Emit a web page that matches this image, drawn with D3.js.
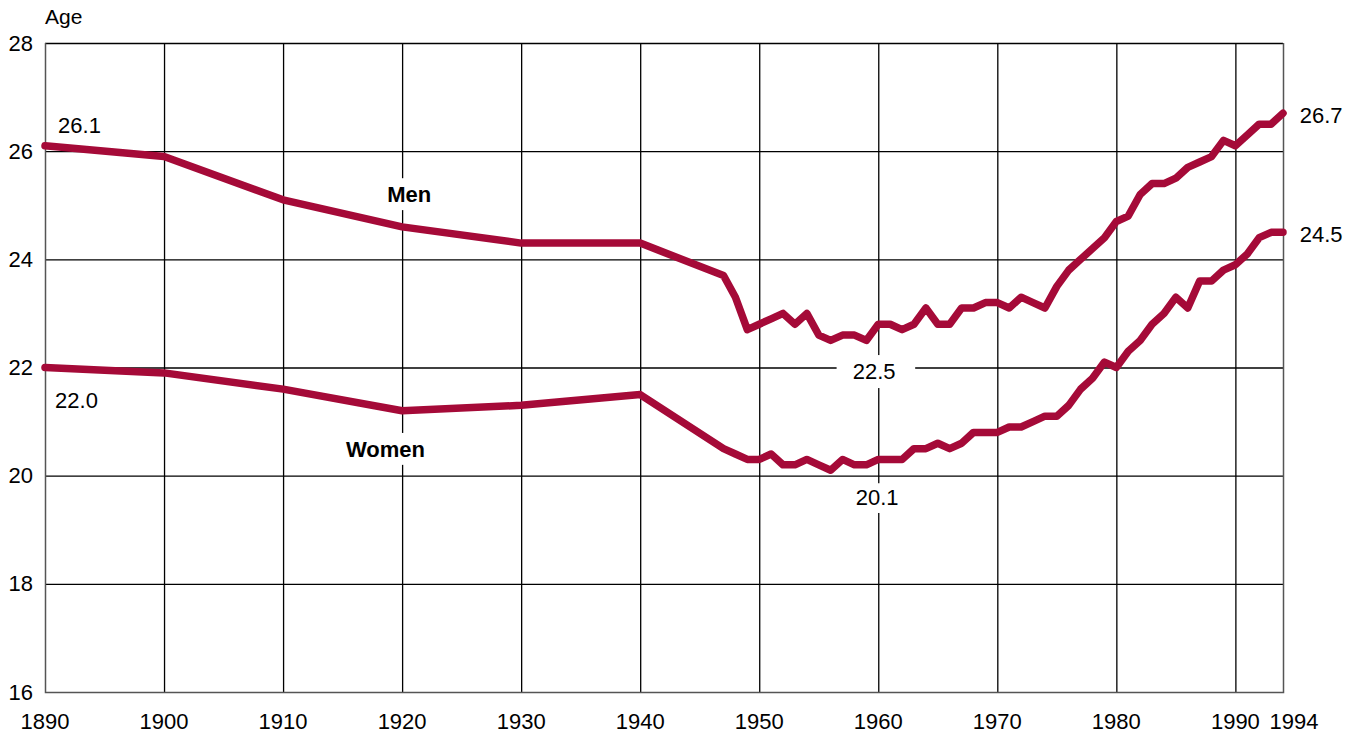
<!DOCTYPE html>
<html>
<head>
<meta charset="utf-8">
<script src="https://cdn.jsdelivr.net/npm/d3@7"></script>
<style>
  body { margin:0; background:#fff; }
  text { font-family: "Liberation Sans", Arial, Helvetica, sans-serif; fill:#000; }
</style>
</head>
<body>
<div id="chart"></div>
<script>
// median age at first marriage, by year
var years = [1890,1900,1910,1920,1930,1940,1947,1948,1949,1950,1951,1952,1953,1954,1955,1956,1957,1958,1959,1960,
  1961,1962,1963,1964,1965,1966,1967,1968,1969,1970,1971,1972,1973,1974,1975,1976,1977,1978,1979,1980,
  1981,1982,1983,1984,1985,1986,1987,1988,1989,1990,1991,1992,1993,1994]
var menAges = [26.1,25.9,25.1,24.6,24.3,24.3,23.7,23.3,22.7,22.8,22.9,23.0,22.8,23.0,22.6,22.5,22.6,22.6,22.5,22.8,
  22.8,22.7,22.8,23.1,22.8,22.8,23.1,23.1,23.2,23.2,23.1,23.3,23.2,23.1,23.5,23.8,24.0,24.2,24.4,24.7,
  24.8,25.2,25.4,25.4,25.5,25.7,25.8,25.9,26.2,26.1,26.3,26.5,26.5,26.7]
var womenAges = [22.0,21.9,21.6,21.2,21.3,21.5,20.5,20.4,20.3,20.3,20.4,20.2,20.2,20.3,20.2,20.1,20.3,20.2,20.2,20.3,
  20.3,20.3,20.5,20.5,20.6,20.5,20.6,20.8,20.8,20.8,20.9,20.9,21.0,21.1,21.1,21.3,21.6,21.8,22.1,22.0,
  22.3,22.5,22.8,23.0,23.3,23.1,23.6,23.6,23.8,23.9,24.1,24.4,24.5,24.5]

var xTicks = [1890,1900,1910,1920,1930,1940,1950,1960,1970,1980,1990,1994]
var yTicks = [16,18,20,22,24,26,28]

var w = 1357, h = 734
var lineColour = "#a50a38"
var fs = "22px"

var x = d3.scaleLinear().domain([1890,1994]).range([45,1283])
var y = d3.scaleLinear().domain([16,28]).range([692,43])

var svg = d3.select("#chart").append("svg")
  .attr("width", w)
  .attr("height", h)

// grid
svg.selectAll(".vgrid")
  .data(xTicks.filter(function(d){ return d>1890 && d<1994 }))
  .enter().append("line")
  .attr("x1", function(d){ return x(d) + 0.5 })
  .attr("x2", function(d){ return x(d) + 0.5 })
  .attr("y1", y(28))
  .attr("y2", y(16))
  .attr("stroke", "#000")
  .attr("stroke-width", 1.3)

svg.selectAll(".hgrid")
  .data(yTicks.filter(function(d){ return d>16 }))
  .enter().append("line")
  .attr("x1", x(1890))
  .attr("x2", x(1994))
  .attr("y1", function(d){ return y(d) + 0.5 })
  .attr("y2", function(d){ return y(d) + 0.5 })
  .attr("stroke", "#000")
  .attr("stroke-width", 1.3)

// frame (left, bottom, right in grey)
svg.append("path")
  .attr("d", "M" + (x(1890)+0.5) + "," + y(28) + "V" + (y(16)+0.5) + "H" + (x(1994)+0.5) + "V" + y(28))
  .attr("fill", "none")
  .attr("stroke", "#555")
  .attr("stroke-width", 1.5)

// white boxes behind the in-chart labels (they cut the grid)
var boxes = [
  {x0:1918.5, x1:1923.5, y0:25.5, y1:24.91},
  {x0:1918.5, x1:1923.5, y0:20.79, y1:20.2},
  {x0:1956.5, x1:1963.1, y0:22.23, y1:21.62},
  {x0:1957.5, x1:1962.5, y0:19.86, y1:19.31}
]
svg.selectAll(".box")
  .data(boxes).enter().append("rect")
  .attr("x", function(d){ return x(d.x0) })
  .attr("y", function(d){ return y(d.y0) })
  .attr("width", function(d){ return x(d.x1) - x(d.x0) })
  .attr("height", function(d){ return y(d.y1) - y(d.y0) })
  .attr("fill", "#fff")

// series
var line = d3.line()
  .x(function(d){ return x(d[0]) })
  .y(function(d){ return y(d[1]) })

var series = [menAges, womenAges]
svg.selectAll(".series")
  .data(series).enter().append("path")
  .attr("d", function(vals){ return line(years.map(function(yr,i){ return [yr, vals[i]] })) })
  .attr("fill", "none")
  .attr("stroke", lineColour)
  .attr("stroke-width", 7.5)
  .attr("stroke-linejoin", "round")
  .attr("stroke-linecap", "round")

// axis labels
svg.selectAll(".ylab")
  .data(yTicks).enter().append("text")
  .attr("x", 33)
  .attr("y", function(d){ return y(d) + 7.5 })
  .attr("text-anchor", "end")
  .style("font-size", fs)
  .text(function(d){ return d })

svg.selectAll(".xlab")
  .data(xTicks).enter().append("text")
  .attr("x", function(d){ return x(d) + (d==1994 ? 11 : 0) })
  .attr("y", 729)
  .attr("text-anchor", "middle")
  .style("font-size", fs)
  .text(function(d){ return d })

svg.append("text")
  .attr("x", 45).attr("y", 24)
  .style("font-size", "21px")
  .text("Age")

// value annotations
var notes = [
  {text:"26.1", yr:1891.1, v:26.34, anchor:"start", bold:false},
  {text:"22.0", yr:1890.85, v:21.25, anchor:"start", bold:false},
  {text:"26.7", yr:1995.4, v:26.52, anchor:"start", bold:false},
  {text:"24.5", yr:1995.4, v:24.32, anchor:"start", bold:false},
  {text:"22.5", yr:1959.65, v:21.79, anchor:"middle", bold:false},
  {text:"20.1", yr:1959.9, v:19.46, anchor:"middle", bold:false},
  {text:"Men", yr:1920.6, v:25.06, anchor:"middle", bold:true},
  {text:"Women", yr:1918.6, v:20.34, anchor:"middle", bold:true}
]
svg.selectAll(".note")
  .data(notes).enter().append("text")
  .attr("x", function(d){ return x(d.yr) })
  .attr("y", function(d){ return y(d.v) })
  .attr("text-anchor", function(d){ return d.anchor })
  .style("font-size", fs)
  .style("font-weight", function(d){ return d.bold ? "bold" : "normal" })
  .text(function(d){ return d.text })
</script>
</body>
</html>
